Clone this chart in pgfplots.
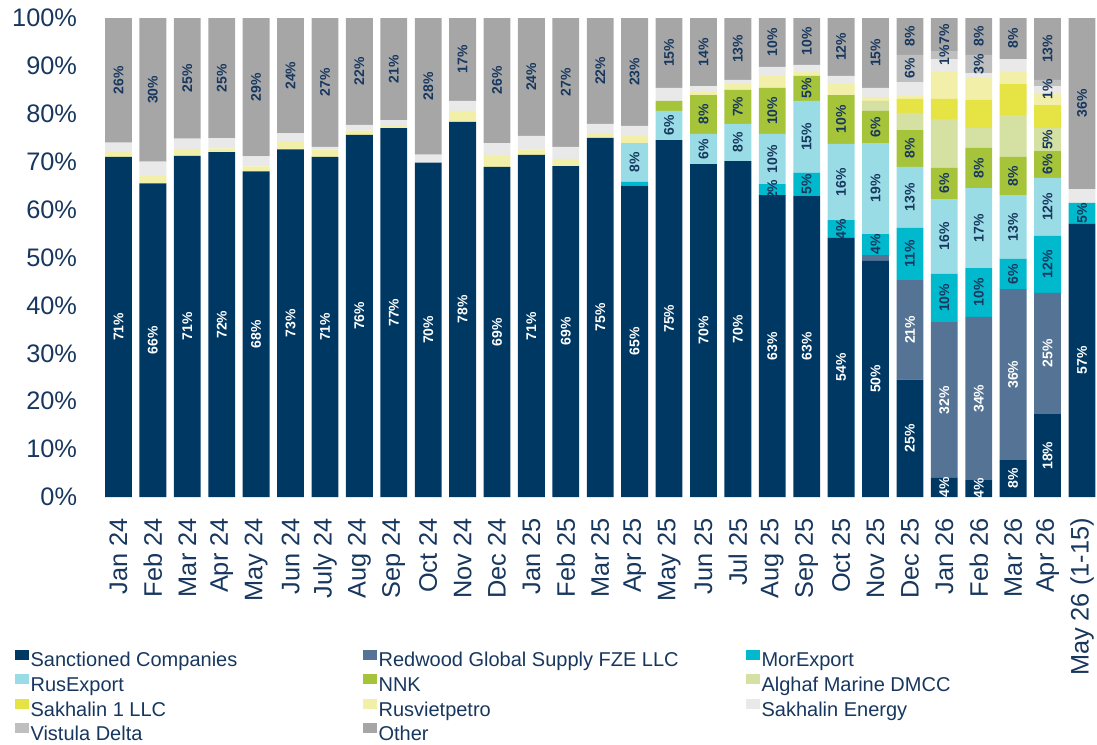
\documentclass[border=0pt]{standalone}
\usepackage{fontspec}
\setmainfont{Liberation Sans}
\usepackage{pgfplots}
\usepackage{pgfplotstable}
\pgfplotsset{compat=1.18}

\definecolor{txt}{HTML}{17375E}
\definecolor{cS}{HTML}{003864}
\definecolor{cR}{HTML}{557495}
\definecolor{cM}{HTML}{00B9CC}
\definecolor{cRE}{HTML}{99DCE6}
\definecolor{cN}{HTML}{A6C43A}
\definecolor{cA}{HTML}{D5E0A3}
\definecolor{cSone}{HTML}{E6E345}
\definecolor{cRV}{HTML}{F2F0A8}
\definecolor{cSE}{HTML}{E9E9E9}
\definecolor{cVD}{HTML}{BFBFBF}
\definecolor{cO}{HTML}{A6A6A6}

% shares in %, label columns hold the printed integer (0 = no label)
\pgfplotstableread{
x  S    Sl R    Rl M    Ml RE   REl N    Nl A    Al S1  RV  SE  SEl VD  VDl O    Ol Z
0  71.0 71 0    0  0    0  0    0   0    0  0    0  0   1.0 2.0 0   0   0   26.0 26 0
1  65.5 66 0    0  0    0  0    0   0    0  0    0  0   1.5 3.0 0   0   0   30.0 30 0
2  71.2 71 0    0  0    0  0    0   0    0  0    0  0   1.5 2.1 0   0   0   25.2 25 0
3  72.0 72 0    0  0    0  0    0   0    0  0    0  0   0.8 2.1 0   0   0   25.1 25 0
4  68.0 68 0    0  0    0  0    0   0    0  0    0  0   1.0 2.1 0   0   0   28.9 29 0
5  72.6 73 0    0  0    0  0    0   0    0  0    0  0   1.7 1.6 0   0   0   24.1 24 0
6  71.0 71 0    0  0    0  0    0   0    0  0    0  0   1.6 0.5 0   0   0   26.9 27 0
7  75.6 76 0    0  0    0  0    0   0    0  0    0  0   0.9 1.2 0   0   0   22.3 22 0
8  77.0 77 0    0  0    0  0    0   0    0  0    0  0   0.5 1.2 0   0   0   21.3 21 0
9  69.8 70 0    0  0    0  0    0   0    0  0    0  0   0.0 1.7 0   0   0   28.5 28 0
10 78.3 78 0    0  0    0  0    0   0    0  0    0  0   2.3 2.1 0   0   0   17.3 17 0
11 68.9 69 0    0  0    0  0    0   0    0  0    0  0   2.5 2.5 0   0   0   26.1 26 0
12 71.4 71 0    0  0    0  0    0   0    0  0    0  0   1.2 2.8 0   0   0   24.6 24 0
13 69.1 69 0    0  0    0  0    0   0    0  0    0  0   1.5 2.5 0   0   0   26.9 27 0
14 75.0 75 0    0  0    0  0    0   0    0  0    0  0   0.8 2.1 0   0   0   22.1 22 0
15 65.0 65 0    0  0.8  0  8.1  8   0    0  0    0  0   1.5 2.1 0   0   0   22.5 23 0
16 74.5 75 0    0  0    0  6.1  6   2.1  0  0    0  0   0.0 2.7 0   0   0   14.6 15 0
17 69.5 70 0    0  0    0  6.3  6   8.1  8  0    0  0   0.7 1.2 0   0   0   14.2 14 0
18 70.1 70 0    0  0    0  7.8  8   7.1  7  0    0  0   1.2 0.9 0   0   0   12.9 13 0
19 63.0 63 0    0  2.3  2  10.5 10  9.6  10 0    0  0   2.5 1.9 0   0   0   10.2 10 0
20 62.9 63 0    0  4.8  5  15.0 15  5.2  5  0    0  0   0.8 1.5 0   0   0   9.8  10 0
21 54.1 54 0    0  3.7  4  15.9 16  10.2 10 0    0  0   2.3 1.7 0   0   0   12.1 12 0
22 49.3 50 1.2  0  4.4  4  19.0 19  6.7  6  2.1  0  0   0.8 1.9 0   0   0   14.6 15 0
23 24.5 25 20.8 21 10.9 11 12.7 13  7.7  8  3.6  0  2.9 0.6 2.9 0   5.7 6   7.7  8  0
24 4.0  4  32.5 32 10.1 10 15.6 16  6.5  6  10.2 0  4.2 5.6 2.7 0   1.7 1   6.9  7  0
25 3.5  4  34.1 34 10.2 10 16.7 17  8.4  8  4.1  0  5.9 4.6 1.0 0   3.8 3   7.7  8  0
26 7.7  8  35.7 36 6.3  6  13.3 13  8.0  8  8.7  0  6.5 2.5 2.7 0   0.0 0   8.6  8  0
27 17.3 18 25.3 25 11.9 12 12.1 12  5.6  6  4.8  5  4.8 2.5 1.5 1   1.3 0   12.9 13 0
28 57.0 57 0    0  4.4  5  0    0   0    0  0    0  0   0.0 2.9 0   0   0   35.7 36 0
}\shares

\newcommand{\la}[1]{\makebox[249.5pt][l]{#1}}
\newcommand{\lb}[1]{\makebox[275.75pt][l]{#1}}

\begin{document}
\begin{tikzpicture}
\useasboundingbox (-75.975pt,-185.25pt) rectangle (746.775pt,372.75pt);
\begin{axis}[
    scale only axis,
    width=748.4pt, height=359.25pt,
    ybar stacked,
    bar width=0.78,
    xmin=-0.5, xmax=28.5,
    ymin=0, ymax=100,
    axis lines*=left,
    axis line style={draw=none},
    major tick length=0pt,
    xtick={0,...,28},
    xticklabels={Jan 24,Feb 24,Mar 24,Apr 24,May 24,Jun 24,July 24,Aug 24,Sep 24,Oct 24,Nov 24,Dec 24,Jan 25,Feb 25,Mar 25,Apr 25,May 25,Jun 25,Jul 25,Aug 25,Sep 25,Oct 25,Nov 25,Dec 25,Jan 26,Feb 26,Mar 26,Apr 26,May 26 (1-15)},
    ytick={0,10,...,100},
    yticklabels={0\%,10\%,20\%,30\%,40\%,50\%,60\%,70\%,80\%,90\%,100\%},
    tick label style={font=\fontsize{19}{22}\selectfont, text=txt},
    yticklabel style={anchor=east, inner sep=0pt, xshift=-18pt},
    xticklabel style={yshift=-15.75pt, rotate=90, anchor=east, inner sep=0pt},
    point meta=explicit symbolic,
    nodes near coords={\ifnum\pgfplotspointmeta>0 \pgfplotspointmeta\%\fi},
    every node near coord/.append style={rotate=90, anchor=center, inner sep=0pt, text=txt,
        font=\bfseries\fontsize{10.5}{12}\selectfont},
    legend columns=3,
    legend cell align=left,
    legend style={at={(axis description cs:-0.0865,-0.318)}, anchor=north west,
        draw=none, fill=none, inner sep=0pt, column sep=0pt, row sep=2pt,
        font=\fontsize{15}{18}\selectfont, text=txt,
        nodes={inner sep=0pt, text height=11pt, text depth=3.5pt, text=txt}},
    legend image code/.code={\fill[#1] (0pt,1.7pt) rectangle (10pt,9.2pt); \path (11.5pt,0pt);},
]
\addplot[fill=cS, draw=none, every node near coord/.append style={text=white}] table[x=x, y=S, meta=Sl] {\shares};
\addlegendentry{\la{Sanctioned Companies}}
\addplot[fill=cR, draw=none, every node near coord/.append style={text=white}] table[x=x, y=R, meta=Rl] {\shares};
\addlegendentry{\lb{Redwood Global Supply FZE LLC}}
\addplot[fill=cM, draw=none] table[x=x, y=M, meta=Ml] {\shares};
\addlegendentry{MorExport}
\addplot[fill=cRE, draw=none] table[x=x, y=RE, meta=REl] {\shares};
\addlegendentry{\la{RusExport}}
\addplot[fill=cN, draw=none] table[x=x, y=N, meta=Nl] {\shares};
\addlegendentry{\lb{NNK}}
\addplot[fill=cA, draw=none] table[x=x, y=A, meta=Al] {\shares};
\addlegendentry{Alghaf Marine DMCC}
\addplot[fill=cSone, draw=none] table[x=x, y=S1, meta=Z] {\shares};
\addlegendentry{\la{Sakhalin 1 LLC}}
\addplot[fill=cRV, draw=none] table[x=x, y=RV, meta=Z] {\shares};
\addlegendentry{\lb{Rusvietpetro}}
\addplot[fill=cSE, draw=none] table[x=x, y=SE, meta=SEl] {\shares};
\addlegendentry{Sakhalin Energy}
\addplot[fill=cVD, draw=none] table[x=x, y=VD, meta=VDl] {\shares};
\addlegendentry{\la{Vistula Delta}}
\addplot[fill=cO, draw=none] table[x=x, y=O, meta=Ol] {\shares};
\addlegendentry{\lb{Other}}
\end{axis}
\end{tikzpicture}
\end{document}
